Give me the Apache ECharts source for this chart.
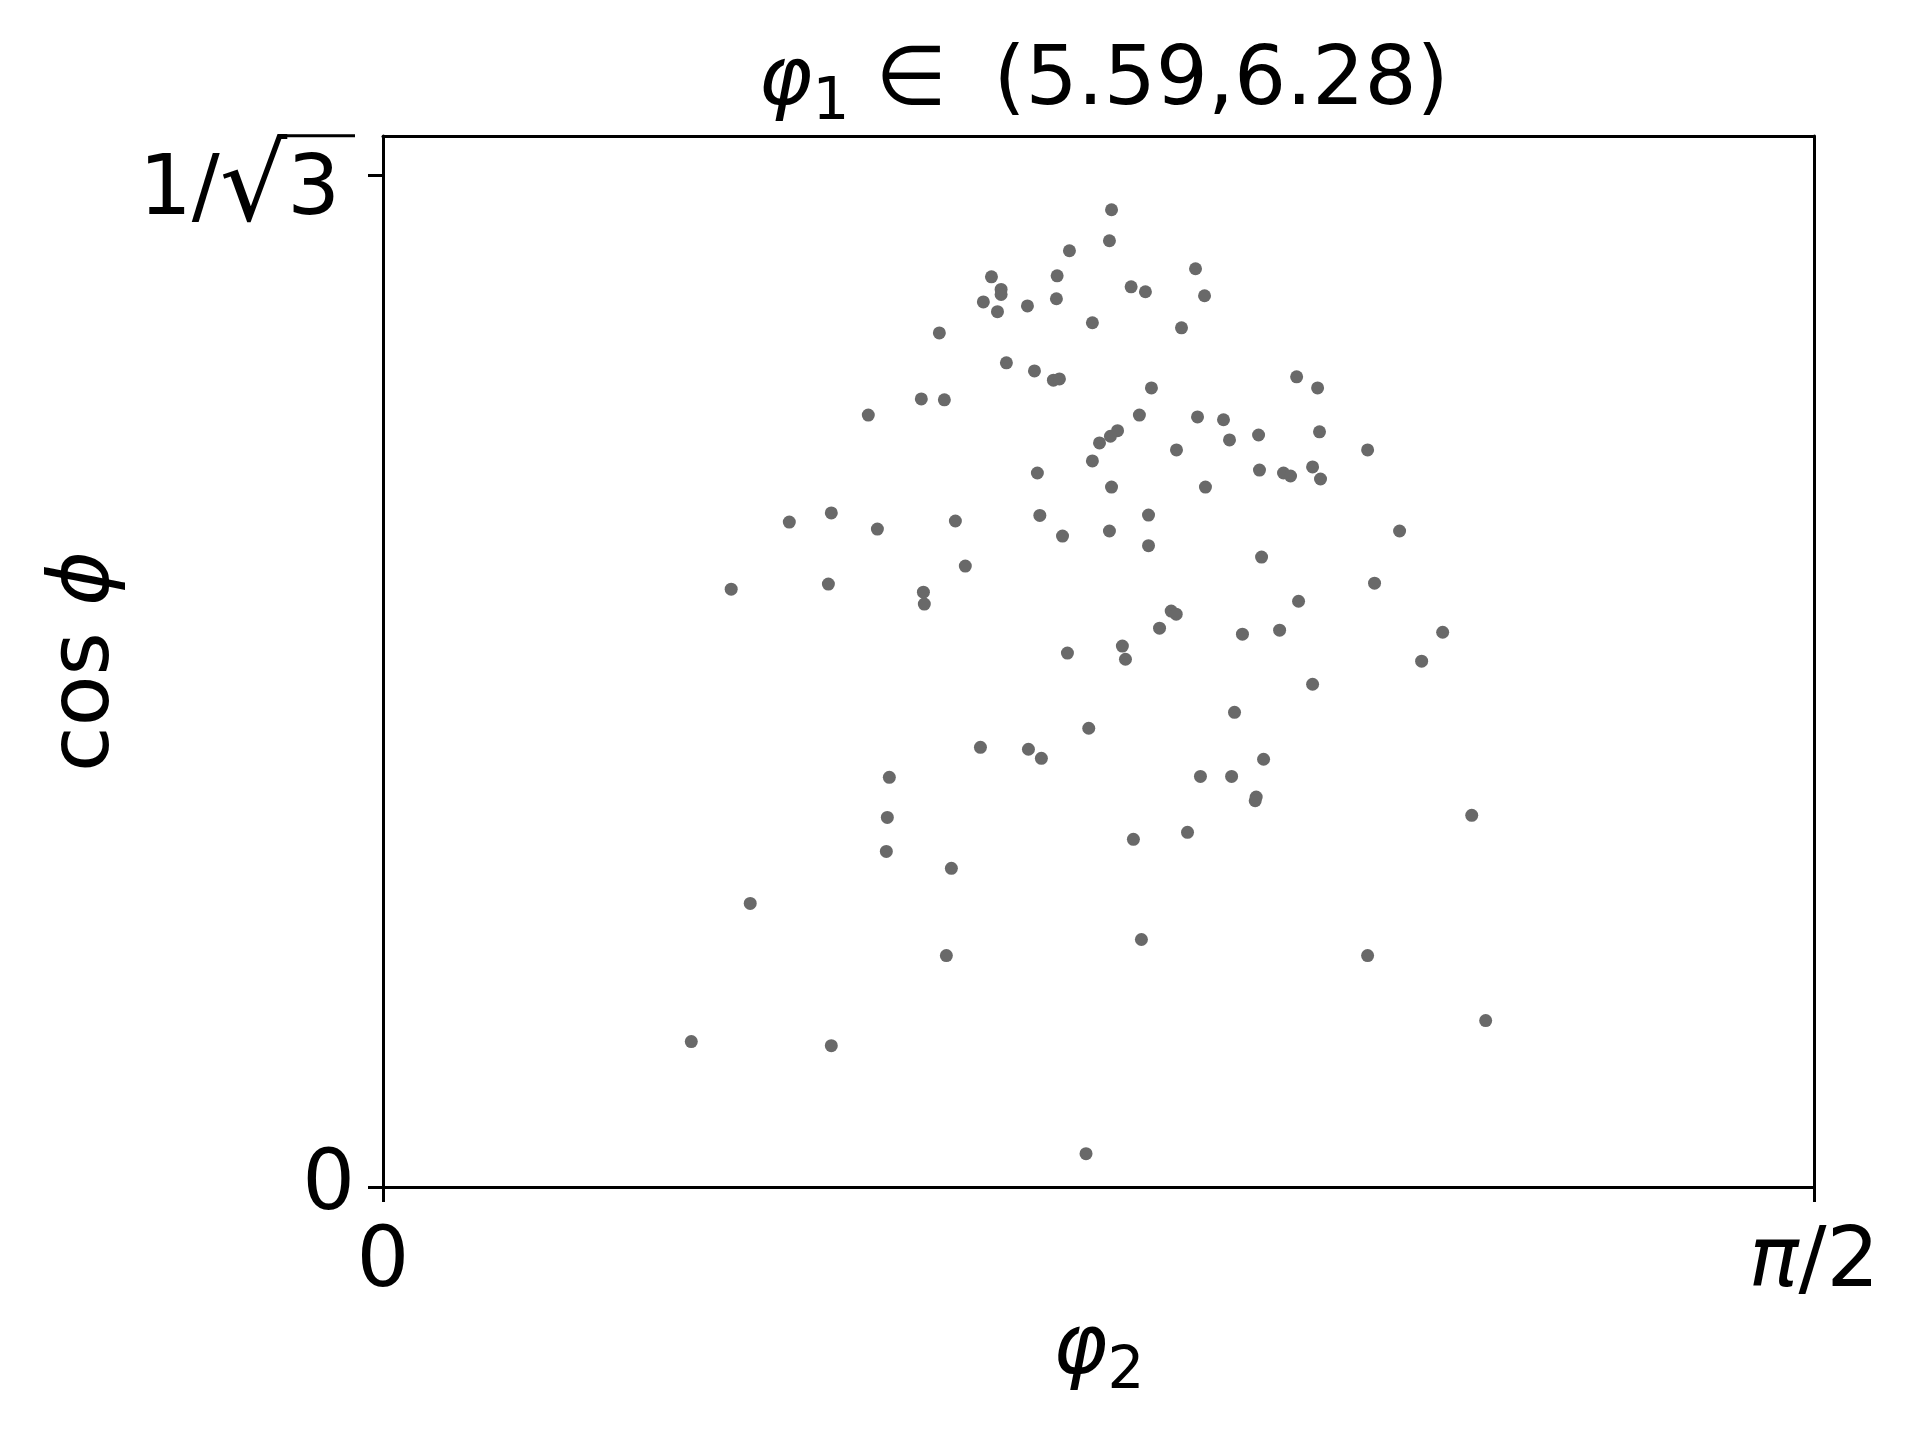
<!DOCTYPE html>
<html><head><meta charset="utf-8">
<script src="https://cdn.jsdelivr.net/npm/echarts@6/dist/echarts.min.js"></script>
<style>html,body{margin:0;padding:0;background:#fff}#c{width:1920px;height:1440px}</style>
</head><body><div id="c"></div>
<script>
// ---- data ----
const phi2 = [0.7997,0.7974,0.7535,0.6679,0.7400,0.6785,0.6785,0.6590,0.7074,0.7392,
  0.6745,0.8212,0.8369,0.8919,0.9018,0.7787,0.6107,0.8765,0.6843,0.7151,
  0.7359,0.7425,0.5909,0.6162,0.8435,0.5327,0.8303,0.8941,0.9226,0.8063,
  0.7985,0.7865,0.9292,0.9611,1.0029,1.0259,1.0280,1.0808,0.8710,0.7787,
  0.7183,0.9621,0.9885,0.9962,1.0204,1.0291,0.7997,0.9028,0.4460,0.4921,
  0.5427,0.6283,0.7210,0.8403,0.7459,0.7974,0.8403,1.1159,0.9644,0.6392,
  0.3822,0.4889,0.5932,0.5942,1.0884,1.0050,0.8652,0.8707,0.8524,0.9434,
  0.9842,1.1632,0.8116,0.8150,0.7513,1.1401,1.0204,0.9347,0.7747,0.6558,
  0.7085,0.7227,0.9666,0.5558,0.8973,0.9315,0.9585,0.9574,0.5536,1.1951,
  0.5525,0.8831,0.8237,0.6239,0.4031,0.8325,0.6184,1.0808,0.3384,0.4921,
  1.2104,0.7717];
const cosPhi = [0.5579,0.5402,0.5345,0.5196,0.5202,0.5124,0.5095,0.5053,0.5030,0.5071,
  0.4997,0.5139,0.5111,0.5242,0.5088,0.4934,0.4876,0.4905,0.4705,0.4659,
  0.4606,0.4613,0.4499,0.4494,0.4562,0.4407,0.4407,0.4396,0.4380,0.4318,
  0.4286,0.4248,0.4265,0.4293,0.4625,0.4562,0.4311,0.4208,0.4208,0.4145,
  0.4076,0.4093,0.4076,0.4059,0.4111,0.4042,0.3996,0.3996,0.3796,0.3848,
  0.3756,0.3802,0.3834,0.3836,0.3716,0.3745,0.3661,0.3745,0.3596,0.3545,
  0.3413,0.3442,0.3396,0.3328,0.3447,0.3344,0.3288,0.3270,0.3190,0.3156,
  0.3179,0.3167,0.3088,0.3013,0.3048,0.3002,0.2870,0.2710,0.2619,0.2510,
  0.2499,0.2447,0.2442,0.2339,0.2344,0.2344,0.2226,0.2205,0.2110,0.2122,
  0.1916,0.2025,0.1985,0.1819,0.1619,0.1413,0.1321,0.1321,0.0830,0.0807,
  0.0950,0.0190];
const xTickValues = [0, Math.PI / 2];
const xTickLabels = ['0', 'π/2'];
const yTickValues = [0, 1 / Math.sqrt(3)];
const yTickLabels = ['0', '1/√3'];
const titleSymbol = 'φ', titleIndex = '1', titleRange = '∈ \u2005(5.59,6.28)';
const xName = ['φ', '2'];
const yName = ['cos', 'ϕ'];

// ---- chart ----
const FONT = 'DejaVu Sans';
const FS = 83;
const pick = (vals, labels) => v => {
  let i = 0, best = Infinity;
  vals.forEach((t, k) => { const d = Math.abs(t - v); if (d < best) { best = d; i = k; } });
  return labels[i];
};
const xLab = pick(xTickValues, xTickLabels);
const yLab = pick(yTickValues, yTickLabels);
const baseRich = {
  n: { fontFamily: FONT, fontSize: FS, color: '#000', lineHeight: 100 },
  it: { fontFamily: FONT, fontSize: FS, fontStyle: 'italic', color: '#000', lineHeight: 100 },
  sub: { fontFamily: FONT, fontSize: 58, color: '#000', lineHeight: 58, verticalAlign: 'bottom' },
  tn: { fontFamily: FONT, fontSize: 82, color: '#000', lineHeight: 100 },
  tit: { fontFamily: FONT, fontSize: 82, fontStyle: 'italic', color: '#000', lineHeight: 100 },
  gap: { width: 1, height: 30, lineHeight: 30 },
  bar: { width: 72, height: 3, lineHeight: 3, backgroundColor: '#000' },
  sp: { width: 15, fontSize: FS, lineHeight: 110 },
  t: { fontFamily: FONT, fontSize: FS, color: '#000', lineHeight: 110 },
  rad: { fontFamily: FONT, fontSize: 106, color: '#000', lineHeight: 110 }
};
const fmtX = v => {
  const s = xLab(v);
  return s.split('π').map(p => p ? '{n|' + p + '}' : '').join('{it|π}');
};
const fmtY = v => {
  const s = yLab(v);
  const k = s.indexOf('√');
  if (k >= 0) {
    return '{gap|}\n{bar|}\n{t|' + s.slice(0, k) + '}{rad|√}{t|' + s.slice(k + 1) + '}{sp|}';
  }
  return '{n|' + s + '}';
};
const data = phi2.map((x, i) => [x, cosPhi[i]]);
const lineStyle = { color: '#000', width: 3 };

const chart = echarts.init(document.getElementById('c'), null, { renderer: 'canvas' });
chart.setOption({
  animation: false,
  backgroundColor: '#fff',
  grid: { left: 383, right: 106, top: 136, bottom: 253, containLabel: false },
  xAxis: [{
    type: 'value', min: 0, max: Math.PI / 2, position: 'bottom',
    axisLine: { show: true, onZero: false, lineStyle },
    axisTick: { show: true, inside: false, length: 15, lineStyle, customValues: xTickValues },
    axisLabel: { show: true, margin: 27, customValues: xTickValues, formatter: fmtX, rich: baseRich },
    splitLine: { show: false },
    name: '{it|' + xName[0] + '}{sub|' + xName[1] + '}',
    nameLocation: 'middle', nameGap: 108,
    nameTextStyle: { rich: baseRich }
  }, {
    type: 'value', min: 0, max: Math.PI / 2, position: 'top',
    axisLine: { show: true, onZero: false, lineStyle },
    axisTick: { show: false }, axisLabel: { show: false }, splitLine: { show: false },
    name: '{tit|' + titleSymbol + '}{sub|' + titleIndex + '}{tn| ' + titleRange + '}',
    nameLocation: 'middle', nameGap: 3,
    nameTextStyle: { rich: baseRich, padding: [0, 0, 0, 10] }
  }],
  yAxis: [{
    type: 'value', min: 0, max: 0.6, position: 'left',
    axisLine: { show: true, onZero: false, lineStyle },
    axisTick: { show: true, inside: false, length: 15, lineStyle, customValues: yTickValues },
    axisLabel: { show: true, margin: 28, customValues: yTickValues, formatter: fmtY, rich: baseRich },
    splitLine: { show: false },
    name: '{n|' + yName[0] + ' }{it|' + yName[1] + '}',
    nameLocation: 'middle', nameGap: 238, nameRotate: 90,
    nameTextStyle: { rich: baseRich }
  }, {
    type: 'value', min: 0, max: 0.6, position: 'right',
    axisLine: { show: true, onZero: false, lineStyle },
    axisTick: { show: false }, axisLabel: { show: false }, splitLine: { show: false }
  }],
  series: [{
    type: 'scatter', xAxisIndex: 0, yAxisIndex: 0,
    data: data, symbol: 'circle', symbolSize: 13,
    itemStyle: { color: '#696969', opacity: 1 }
  }]
});
</script></body></html>
